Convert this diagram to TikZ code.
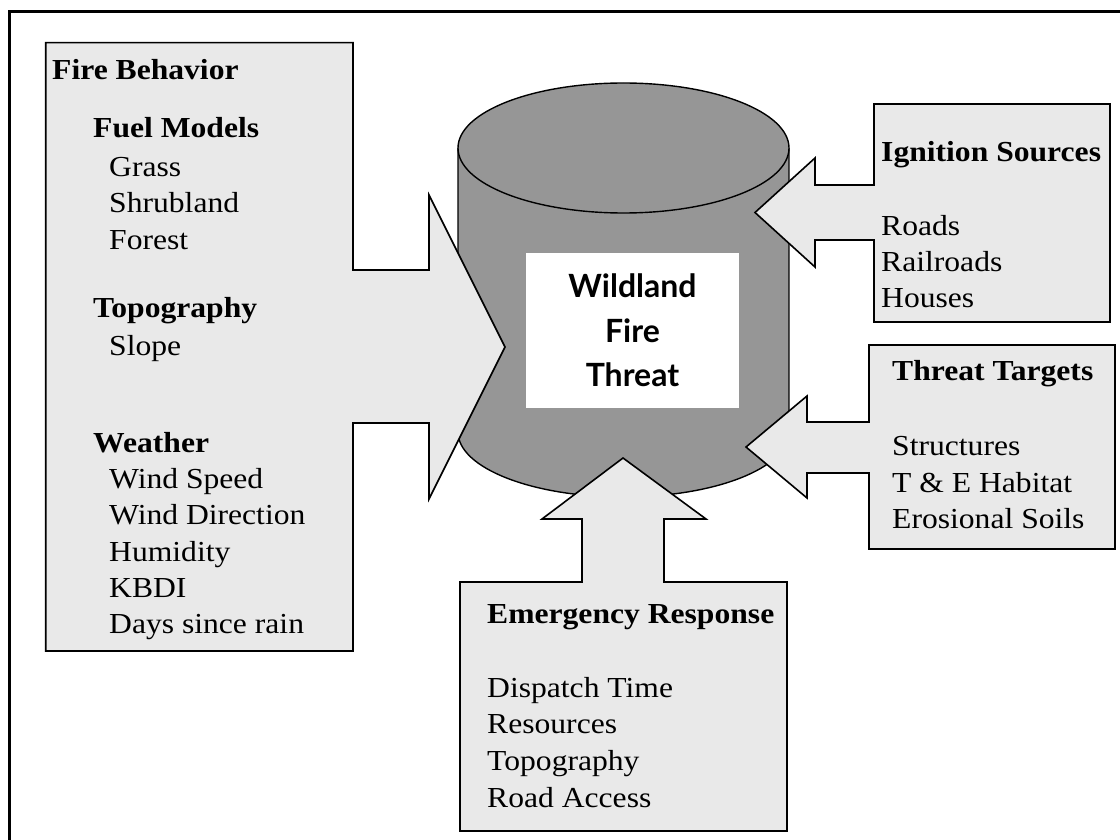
\documentclass[tikz,border=0pt]{standalone}
\usepackage{fontspec}
\setmainfont{Liberation Serif}[FakeStretch=1.09]
\newfontfamily\centerfont{Lato}
\definecolor{boxgray}{gray}{0.914}
\definecolor{cylgray}{gray}{0.588}
\tikzset{
  panel/.style={draw=black, fill=boxgray, line width=1.6pt, line join=miter},
  item/.style={anchor=base west, inner sep=0pt, font=\fontsize{29}{36}\selectfont},
  head/.style={anchor=base west, inner sep=0pt, font=\bfseries\fontsize{29}{36}\selectfont},
  cyl/.style={draw=black, fill=cylgray, line width=1.4pt}
}
\begin{document}
\begin{tikzpicture}[x=1pt,y=-1pt]
\useasboundingbox (0,0) rectangle (1120,840);
% outer frame (cropped)
\draw[line width=3pt] (9.6,1000) -- (9.6,11.7) -- (1300,11.7);
% cylinder
\path[fill=cylgray] (623.5,432) ellipse[x radius=165.5, y radius=65];
\path[fill=cylgray] (458,148) rectangle (789,432);
\draw[line width=1.4pt] (458,148) -- (458,432) arc[start angle=180, end angle=0, x radius=165.5, y radius=65] -- (789,148);
\draw[cyl] (623.5,148) ellipse[x radius=165.5, y radius=65];
% centre label
\node[fill=white, minimum width=213pt, minimum height=155pt, inner sep=0pt, align=center,
      font=\centerfont\bfseries\fontsize{32}{44.5}\selectfont] (core) at (632.5,330.5) {Wildland\\Fire\\Threat};
% Fire behavior panel with arrow
\draw[panel] (45.7,42.7) -- (353,42.7) -- (353,270) -- (429,270) -- (429,195) -- (505,347)
  -- (429,499) -- (429,423) -- (353,423) -- (353,651) -- (45.7,651) -- cycle;
% Ignition sources panel
\draw[panel] (874,104) -- (1110,104) -- (1110,322) -- (874,322) -- (874,240) -- (815,240)
  -- (815,267) -- (755,212.5) -- (815,158) -- (815,185) -- (874,185) -- cycle;
% Threat targets panel
\draw[panel] (869,345) -- (1115,345) -- (1115,549) -- (869,549) -- (869,473) -- (807,473)
  -- (807,498) -- (746,447) -- (807,396) -- (807,422) -- (869,422) -- cycle;
% Emergency response panel
\draw[panel] (460,582) -- (582,582) -- (582,519) -- (542,519) -- (623,458) -- (706,519)
  -- (664,519) -- (664,582) -- (787,582) -- (787,831) -- (460,831) -- cycle;
% Fire behavior texts
\node[head] (fb) at (52,80) {Fire Behavior};
\node[head] (fm) at (93,138) {Fuel Models};
\node[item] (fm1) at (109,177) {Grass};
\node[item] (fm2) at (109,213) {Shrubland};
\node[item] (fm3) at (109,249) {Forest};
\node[head] (tp) at (93,317) {Topography};
\node[item] (tp1) at (109,355) {Slope};
\node[head] (we) at (93,452) {Weather};
\node[item] (we1) at (109,488) {Wind Speed};
\node[item] (we2) at (109,524) {Wind Direction};
\node[item] (we3) at (109,561) {Humidity};
\node[item] (we4) at (109,597) {KBDI};
\node[item] (we5) at (109,633) {Days since rain};
% Ignition sources texts
\node[head] (ig) at (881,162) {Ignition Sources};
\node[item] (ig1) at (881,235) {Roads};
\node[item] (ig2) at (881,271) {Railroads};
\node[item] (ig3) at (881,307) {Houses};
% Threat targets texts
\node[head] (tt) at (892,380) {Threat Targets};
\node[item] (tt1) at (892,455) {Structures};
\node[item] (tt2) at (892,492) {T \& E Habitat};
\node[item] (tt3) at (892,528) {Erosional Soils};
% Emergency response texts
\node[head] (er) at (487,623) {Emergency Response};
\node[item] (er1) at (487,697) {Dispatch Time};
\node[item] (er2) at (487,733) {Resources};
\node[item] (er3) at (487,770) {Topography};
\node[item] (er4) at (487,807) {Road Access};
\end{tikzpicture}
\end{document}
